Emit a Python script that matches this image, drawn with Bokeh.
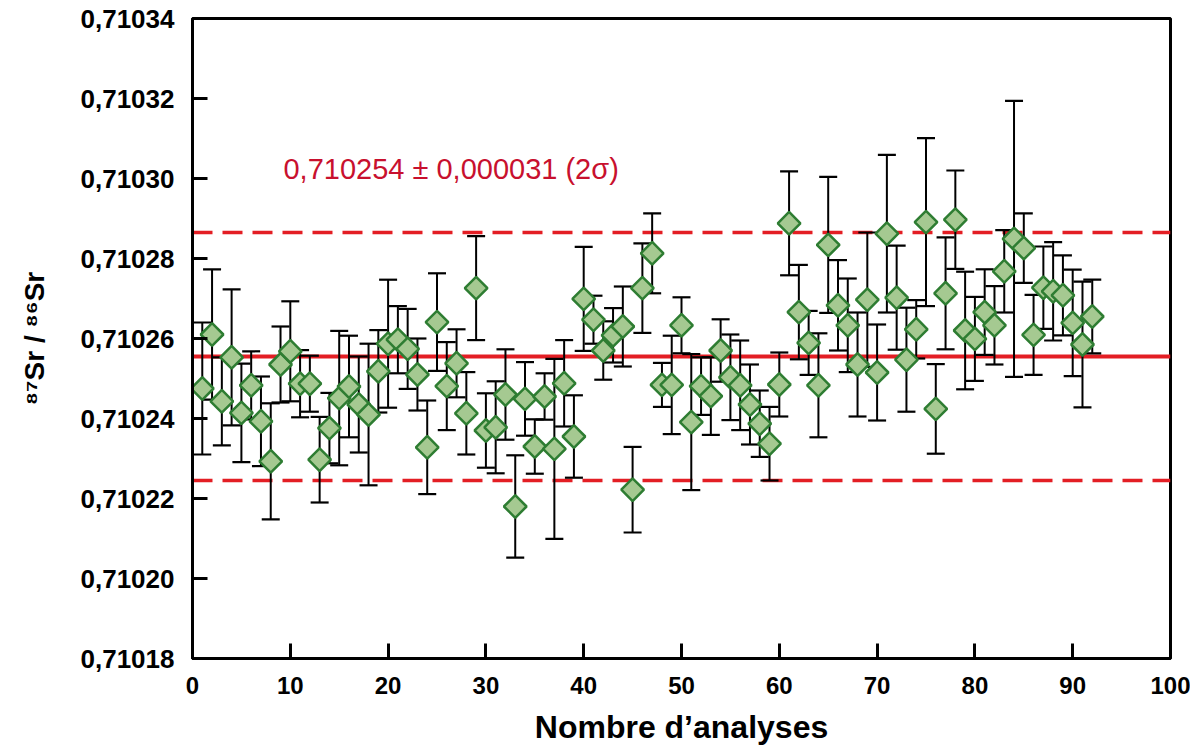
import math
from bokeh.plotting import figure
from bokeh.models import Span, Label, FixedTicker, CustomJSTickFormatter, ColumnDataSource
from bokeh.embed import file_html
from bokeh.resources import INLINE

# ---- data ----
analysis = list(range(1, 93))
ratio = [
    0.7102475, 0.7102610, 0.7102443, 0.7102553, 0.7102414, 0.7102483, 0.7102393, 0.7102293,
    0.7102535, 0.7102568, 0.7102487, 0.7102487, 0.7102297, 0.7102376, 0.7102451, 0.7102480,
    0.7102435, 0.7102410, 0.7102518, 0.7102587, 0.7102597, 0.7102574, 0.7102510, 0.7102328,
    0.7102641, 0.7102481, 0.7102538, 0.7102413, 0.7102726, 0.7102370, 0.7102378, 0.7102460,
    0.7102180, 0.7102449, 0.7102330, 0.7102455, 0.7102324, 0.7102488, 0.7102355, 0.7102699,
    0.7102647, 0.7102570, 0.7102608, 0.7102630, 0.7102222, 0.7102726, 0.7102813, 0.7102484,
    0.7102484, 0.7102633, 0.7102391, 0.7102481, 0.7102456, 0.7102570, 0.7102503, 0.7102483,
    0.7102435, 0.7102387, 0.7102337, 0.7102485, 0.7102888, 0.7102666, 0.7102589, 0.7102483,
    0.7102834, 0.7102683, 0.7102633, 0.7102535, 0.7102697, 0.7102515, 0.7102862, 0.7102702,
    0.7102547, 0.7102623, 0.7102891, 0.7102424, 0.7102713, 0.7102897, 0.7102620, 0.7102599,
    0.7102666, 0.7102633, 0.7102768, 0.7102849, 0.7102826, 0.7102609, 0.7102727, 0.7102718,
    0.7102708, 0.7102639, 0.7102585, 0.7102655,
]
err2s = [
    0.0000165, 0.0000163, 0.0000110, 0.0000170, 0.0000123, 0.0000085, 0.0000112, 0.0000145,
    0.0000095, 0.0000125, 0.0000084, 0.0000070, 0.0000107, 0.0000088, 0.0000168, 0.0000127,
    0.0000120, 0.0000177, 0.0000103, 0.0000160, 0.0000084, 0.0000100, 0.0000090, 0.0000117,
    0.0000122, 0.0000110, 0.0000085, 0.0000103, 0.0000130, 0.0000093, 0.0000115, 0.0000113,
    0.0000128, 0.0000092, 0.0000068, 0.0000058, 0.0000225, 0.0000108, 0.0000103, 0.0000130,
    0.0000060, 0.0000073, 0.0000068, 0.0000100, 0.0000107, 0.0000112, 0.0000100, 0.0000055,
    0.0000123, 0.0000070, 0.0000170, 0.0000072, 0.0000097, 0.0000078, 0.0000107, 0.0000112,
    0.0000100, 0.0000083, 0.0000092, 0.0000080, 0.0000130, 0.0000118, 0.0000080, 0.0000130,
    0.0000170, 0.0000113, 0.0000117, 0.0000130, 0.0000168, 0.0000120, 0.0000197, 0.0000130,
    0.0000130, 0.0000073, 0.0000210, 0.0000112, 0.0000140, 0.0000123, 0.0000147, 0.0000105,
    0.0000107, 0.0000098, 0.0000103, 0.0000345, 0.0000087, 0.0000100, 0.0000103, 0.0000123,
    0.0000100, 0.0000133, 0.0000157, 0.0000092,
]
mean_ratio = 0.7102555
two_sigma = 0.000031
annotation = "0,710254 ± 0,000031 (2σ)"
x_ticks = [0, 10, 20, 30, 40, 50, 60, 70, 80, 90, 100]
y_ticks = [0.71018, 0.71020, 0.71022, 0.71024, 0.71026, 0.71028, 0.71030, 0.71032, 0.71034]

upper = [v + e for v, e in zip(ratio, err2s)]
lower = [v - e for v, e in zip(ratio, err2s)]
src = ColumnDataSource(dict(x=analysis, y=ratio, up=upper, lo=lower))

p = figure(width=1190, height=752, x_range=(0, 100), y_range=(0.71018, 0.71034),
           output_backend="svg", toolbar_location=None,
           min_border_left=192, min_border_right=20, min_border_top=18, min_border_bottom=94)
p.background_fill_color = "white"
p.border_fill_color = "white"
p.grid.visible = False
p.outline_line_color = "black"
p.outline_line_width = 3

# reference lines
red = "#e31e24"
p.add_layout(Span(location=mean_ratio, dimension="width", line_color=red, line_width=4, level="underlay"))
p.add_layout(Span(location=mean_ratio + two_sigma, dimension="width", line_color=red, line_width=3.5,
                  line_dash="20 10", level="underlay"))
p.add_layout(Span(location=mean_ratio - two_sigma, dimension="width", line_color=red, line_width=3.5,
                  line_dash="20 10", level="underlay"))

# error bars
p.segment(x0="x", y0="lo", x1="x", y1="up", source=src, line_color="black", line_width=2)
p.scatter(x="x", y="up", source=src, marker="dash", size=18, line_color="black", line_width=2.2)
p.scatter(x="x", y="lo", source=src, marker="dash", size=18, line_color="black", line_width=2.2)

# points
p.scatter(x="x", y="y", source=src, marker="square", angle=math.pi / 4, size=16,
          fill_color="#a5c991", line_color="#2e7d32", line_width=2.5)

p.add_layout(Label(x=9.3, y=0.7103025, text=annotation, text_color="#c8102e",
                   text_font="Liberation Sans", text_font_size="29px", text_baseline="alphabetic"))

# axes
p.xaxis.ticker = FixedTicker(ticks=x_ticks)
p.yaxis.ticker = FixedTicker(ticks=y_ticks)
p.yaxis.formatter = CustomJSTickFormatter(code="return tick.toFixed(5).replace('.', ',');")
for ax in (p.xaxis[0], p.yaxis[0]):
    ax.axis_line_color = "black"
    ax.axis_line_width = 3
    ax.major_tick_line_color = "black"
    ax.major_tick_line_width = 3
    ax.major_tick_in = 15
    ax.major_tick_out = 0
    ax.minor_tick_line_color = None
    ax.major_label_text_color = "black"
    ax.major_label_text_font_style = "bold"
    ax.axis_label_text_color = "black"
    ax.axis_label_text_font_style = "bold"

p.xaxis.major_label_text_font = "Liberation Sans"
p.xaxis.major_label_text_font_size = "24px"
p.xaxis.major_label_standoff = 18
p.xaxis.axis_label = "Nombre d’analyses"
p.xaxis.axis_label_text_font = "Liberation Sans"
p.xaxis.axis_label_text_font_size = "32px"
p.xaxis.axis_label_standoff = 12

p.yaxis.major_label_text_font = "Liberation Sans"
p.yaxis.major_label_text_font_size = "26px"
p.yaxis.major_label_standoff = 18
p.yaxis.axis_label = "⁸⁷Sr / ⁸⁶Sr"
p.yaxis.axis_label_text_font = "Liberation Sans"
p.yaxis.axis_label_text_font_size = "28px"
p.yaxis.axis_label_standoff = 28

open("out.html", "w").write(file_html(p, INLINE))
